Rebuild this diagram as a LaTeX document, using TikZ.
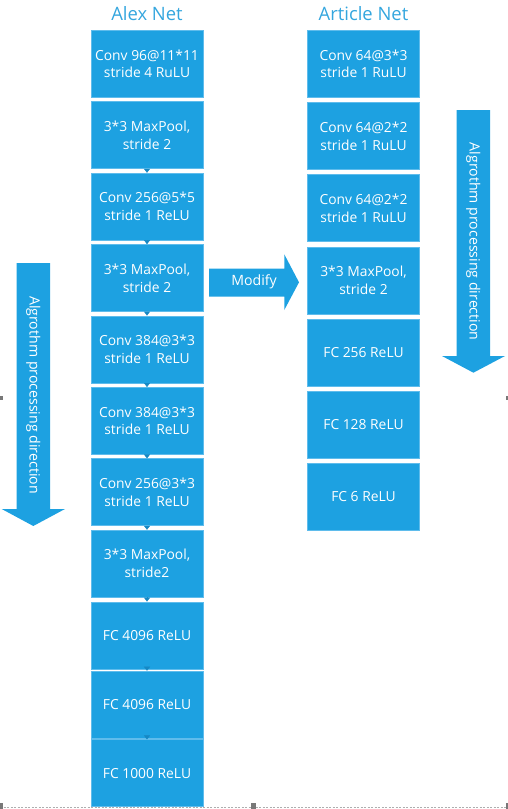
\documentclass[tikz,border=0pt]{standalone}
\usepackage{fontspec}
\setmainfont{Open Sans}
\usepackage{xcolor}
\usepackage{tikz}
\usetikzlibrary{positioning, arrows.meta}
\definecolor{layerblue}{RGB}{29, 161, 225}
\definecolor{edgeblue}{RGB}{95, 188, 236}
\definecolor{titleblue}{RGB}{52, 166, 222}
\definecolor{tipblue}{RGB}{22, 136, 196}
\definecolor{handlegray}{RGB}{120, 120, 120}

\begin{document}
\begin{tikzpicture}[x=1bp, y=-1bp,
            layer/.style={rectangle, draw=edgeblue, line width=0.6bp, fill=layerblue, text=white, minimum width=112bp, minimum height=67bp, inner sep=0pt, align=center, font=\fontsize{13.9}{17.8}\selectfont},
            nettitle/.style={text=titleblue, font=\fontsize{18.5}{22}\selectfont},
            flow/.style={-{Triangle[width=6bp, length=4bp]}, draw=tipblue, fill=tipblue, line width=0.4bp},
            blockarrow/.style={fill=layerblue},
            arrowtext/.style={text=white, font=\fontsize{14.2}{17}\selectfont}
        ]
            \useasboundingbox (0,0) rectangle (508,809);

            % column titles
            \node (alextitle) [nettitle] at (147,13.5) {Alex Net};
            \node (articletitle) [nettitle] at (363.5,13.5) {Article Net};

            % Alex Net layers
            \node (alex1) [layer] at (147,63.8) {Conv 96@11*11\\stride 4 RuLU};
            \node (alex2) [layer, below=3.8bp of alex1] {3*3 MaxPool,\\stride 2};
            \node (alex3) [layer, below=3.8bp of alex2] {Conv 256@5*5\\stride 1 ReLU};
            \node (alex4) [layer, below=3.8bp of alex3] {3*3 MaxPool,\\stride 2};
            \node (alex5) [layer, below=3.8bp of alex4] {Conv 384@3*3\\stride 1 ReLU};
            \node (alex6) [layer, below=3.8bp of alex5] {Conv 384@3*3\\stride 1 ReLU};
            \node (alex7) [layer, below=3.8bp of alex6] {Conv 256@3*3\\stride 1 ReLU};
            \node (alex8) [layer, below=3.8bp of alex7] {3*3 MaxPool,\\stride2};
            \node (alex9) [layer, below=4.2bp of alex8] {FC 4096 ReLU};
            \node (alex10) [layer, below=1.5bp of alex9] {FC 4096 ReLU};
            \node (alex11) [layer, below=1.1bp of alex10] {FC 1000 ReLU};

            % Article Net layers
            \node (art1) [layer] at (363.5,63.8) {Conv 64@3*3\\stride 1 RuLU};
            \node (art2) [layer, below=4.6bp of art1] {Conv 64@2*2\\stride 1 RuLU};
            \node (art3) [layer, below=4.6bp of art2] {Conv 64@2*2\\stride 1 RuLU};
            \node (art4) [layer, below=4.6bp of art3] {3*3 MaxPool,\\stride 2};
            \node (art5) [layer, below=4.6bp of art4] {FC 256 ReLU};
            \node (art6) [layer, below=4.6bp of art5] {FC 128 ReLU};
            \node (art7) [layer, below=4.6bp of art6] {FC 6 ReLU};

            \draw[flow] (alex2) -- (alex3);
            \draw[flow] (alex3) -- (alex4);
            \draw[flow] (alex4) -- (alex5);
            \draw[flow] (alex5) -- (alex6);
            \draw[flow] (alex6) -- (alex7);
            \draw[flow] (alex7) -- (alex8);
            \draw[flow] (alex8) -- (alex9);
            \draw[flow] (alex9) -- (alex10);
            \draw[flow] (alex10) -- (alex11);

            % block arrows
            \fill[blockarrow] (209,268.7) -- (284.3,268.7) -- (284.3,254.3) -- (299,282.3) -- (284.3,310) -- (284.3,296.7) -- (209,296.7) -- cycle;
            \node (modify) [arrowtext] at (254,281.5) {Modify};

            \fill[blockarrow] (456.7,110) -- (490,110) -- (490,356) -- (505,356) -- (473.4,372.7) -- (442,356) -- (456.7,356) -- cycle;
            \node (dirright) [arrowtext, rotate=-90] at (473.4,241.7) {Algrothm processing direction};

            \fill[blockarrow] (16.7,263) -- (50,263) -- (50,509) -- (65,509) -- (33.3,526) -- (1.7,509) -- (16.7,509) -- cycle;
            \node (dirleft) [arrowtext, rotate=-90] at (33.3,395) {Algrothm processing direction};

            % frame of the figure
            \draw[handlegray!60, line width=0.6bp, dash pattern=on 2bp off 1.5bp] (0,807.6) -- (508,807.6);
            \fill[handlegray] (0,396) rectangle (2.5,400);
            \fill[handlegray] (505.5,396) rectangle (508,400);
            \fill[handlegray] (0,803) rectangle (2.5,809);
            \fill[handlegray] (251,803) rectangle (255.5,809);
            \fill[handlegray] (505.5,803) rectangle (508,809);
        \end{tikzpicture}
\end{document}
